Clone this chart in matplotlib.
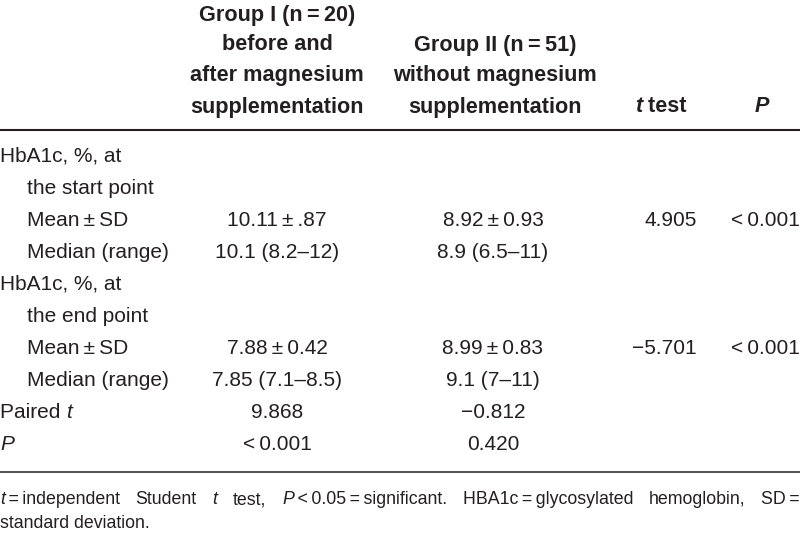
import matplotlib
matplotlib.use("Agg")
import matplotlib.pyplot as plt

FAM = ['Liberation Sans Narrow', 'Liberation Sans', 'DejaVu Sans']
COL = '#231f20'
FS = 15

# ---- data ----
header_g1 = ["Group I (n\u2009=\u200920)", "before and", "after magnesium", "supplementation"]
header_g2 = ["Group II (n\u2009=\u200951)", "without magnesium", "supplementation"]
row_labels = ["HbA1c, %, at", "the start point", "Mean\u2009\u00b1\u2009SD", "Median (range)",
              "HbA1c, %, at", "the end point", "Mean\u2009\u00b1\u2009SD", "Median (range)",
              "Paired t", "P"]
row_indent = [0, 1, 1, 1, 0, 1, 1, 1, 0, 0]
group1 = ["", "", "10.11\u2009\u00b1\u2009.87", "10.1 (8.2\u201312)",
          "", "", "7.88\u2009\u00b1\u20090.42", "7.85 (7.1\u20138.5)", "9.868", "<\u20090.001"]
group2 = ["", "", "8.92\u2009\u00b1\u20090.93", "8.9 (6.5\u201311)",
          "", "", "8.99\u2009\u00b1\u20090.83", "9.1 (7\u201311)", "\u22120.812", "0.420"]
t_test = ["", "", "4.905", "", "", "", "\u22125.701", "", "", ""]
p_vals = ["", "", "<\u20090.001", "", "", "", "<\u20090.001", "", "", ""]

fig = plt.figure(figsize=(8, 5.36), dpi=100)
ax = fig.add_axes([0, 0, 1, 1])
ax.set_xlim(0, 800)
ax.set_ylim(536, 0)
ax.axis('off')
renderer = fig.canvas.get_renderer()


def runs(x, y, parts, ha='left', size=FS, weight='normal'):
    """parts: list of (text, italic)"""
    objs = []
    widths = []
    for txt, it in parts:
        t = ax.text(0, y, txt, fontsize=size, family=FAM, color=COL,
                    style='italic' if it else 'normal', weight=weight, va='center')
        objs.append(t)
        widths.append(t.get_window_extent(renderer).width)
    total = sum(widths)
    if ha == 'center':
        x0 = x - total / 2
    elif ha == 'right':
        x0 = x - total
    else:
        x0 = x
    for t, w in zip(objs, widths):
        t.set_x(x0)
        x0 += w
    return objs, total


HS = 15.6
# header
g1_y = [15, 45, 76, 107]
for s, yy in zip(header_g1, g1_y):
    runs(277, yy, [(s, False)], ha='center', weight='bold', size=HS)
g2_y = [45, 76, 107]
for s, yy in zip(header_g2, g2_y):
    runs(495, yy, [(s, False)], ha='center', weight='bold', size=HS)
runs(661, 107, [("t", True), (" test", False)], ha='center', weight='bold', size=HS)
runs(762, 107, [("P", True)], ha='center', weight='bold', size=HS)

ax.plot([0, 800], [130, 130], color=COL, lw=1.5, solid_capstyle='butt')

row_y = [156, 188, 220, 252, 284, 317, 349, 381, 413, 445]
for i, yy in enumerate(row_y):
    lab = row_labels[i]
    x = 0 + 27 * row_indent[i]
    if lab == "Paired t":
        runs(x, yy, [("Paired ", False), ("t", True)])
    elif lab == "P":
        runs(x, yy, [("P", True)])
    else:
        runs(x, yy, [(lab, False)])
    if group1[i]:
        runs(277, yy, [(group1[i], False)], ha='center')
    if group2[i]:
        runs(493, yy, [(group2[i], False)], ha='center')
    if t_test[i]:
        runs(697, yy, [(t_test[i], False)], ha='right')
    if p_vals[i]:
        runs(800, yy, [(p_vals[i], False)], ha='right')

ax.plot([0, 800], [472, 472], color=COL, lw=1.1, solid_capstyle='butt')

# footnote (justified first line)
FN = 12.8
words = [[("t", True), ("\u2009=\u2009independent", False)],
         [("Student", False)],
         [("t", True)],
         [("test,", False)],
         [("P", True), ("\u2009<\u20090.05\u2009=\u2009significant.", False)],
         [("HBA1c\u2009=\u2009glycosylated", False)],
         [("hemoglobin,", False)],
         [("SD\u2009=", False)]]
ws = []
for w in words:
    objs, tot = runs(0, -100, w, size=FN)
    for o in objs:
        o.remove()
    ws.append(tot)
gap = (800 - sum(ws)) / (len(words) - 1)
x = 0
for w, wd in zip(words, ws):
    runs(x, 500, w, size=FN)
    x += wd + gap
runs(0, 523, [("standard deviation.", False)], size=FN)

fig.savefig("out.png", dpi=100)
